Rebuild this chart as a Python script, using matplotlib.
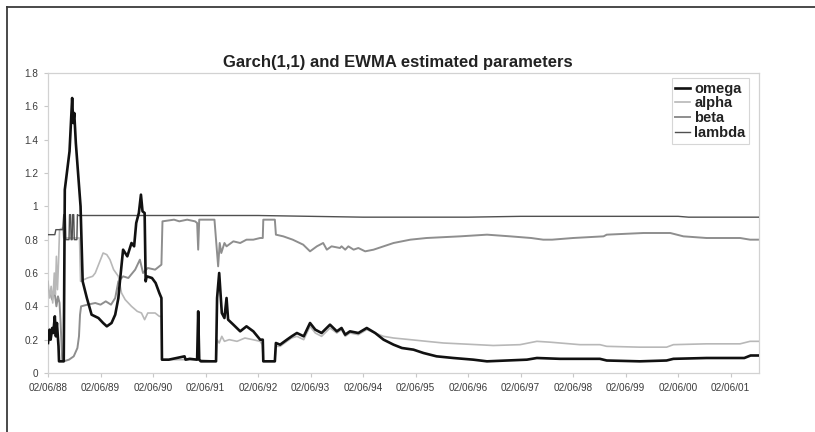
import matplotlib
matplotlib.use("Agg")
import matplotlib.pyplot as plt
from matplotlib.lines import Line2D

plt.rcParams["font.family"] = ["Liberation Sans", "DejaVu Sans"]

# Time axis: years elapsed since 02/06/88
date_labels = ["02/06/88", "02/06/89", "02/06/90", "02/06/91", "02/06/92",
               "02/06/93", "02/06/94", "02/06/95", "02/06/96", "02/06/97",
               "02/06/98", "02/06/99", "02/06/00", "02/06/01"]
y_ticks = [0, 0.2, 0.4, 0.6, 0.8, 1.0, 1.2, 1.4, 1.6, 1.8]
y_labels = ["0", "0.2", "0.4", "0.6", "0.8", "1", "1.2", "1.4", "1.6", "1.8"]

omega_t = [0.00, 0.03, 0.05, 0.08, 0.10, 0.13, 0.15, 0.17, 0.20, 0.21, 0.30, 0.32,
           0.41, 0.46, 0.48, 0.50, 0.53, 0.62, 0.66, 0.74, 0.83, 0.96, 1.05, 1.12,
           1.21, 1.28, 1.34, 1.37, 1.43, 1.51, 1.59, 1.64, 1.68, 1.73, 1.77, 1.80,
           1.84, 1.86, 1.88, 1.98, 2.05, 2.12, 2.16, 2.17, 2.30, 2.45, 2.60, 2.62,
           2.70, 2.84, 2.86, 2.88, 2.91, 3.17, 3.20, 3.22, 3.26, 3.31, 3.36, 3.40,
           3.43, 3.53, 3.66, 3.78, 3.91, 4.04, 4.09, 4.10, 4.32, 4.34, 4.42, 4.55,
           4.64, 4.74, 4.87, 4.99, 5.09, 5.21, 5.37, 5.50, 5.59, 5.66, 5.75, 5.91,
           6.07, 6.23, 6.39, 6.58, 6.74, 6.96, 7.15, 7.40, 7.72, 8.10, 8.36, 8.74,
           9.12, 9.31, 9.75, 10.51, 10.64, 11.27, 11.78, 11.91, 12.54, 13.26, 13.38,
           13.55]
omega_v = [0.18, 0.26, 0.20, 0.27, 0.24, 0.34, 0.22, 0.30, 0.16, 0.07, 0.07, 1.10,
           1.33, 1.65, 1.50, 1.56, 1.38, 1.00, 0.55, 0.45, 0.35, 0.33, 0.30, 0.28,
           0.30, 0.35, 0.45, 0.55, 0.74, 0.70, 0.78, 0.76, 0.90, 0.96, 1.07, 0.97,
           0.96, 0.55, 0.58, 0.57, 0.54, 0.48, 0.45, 0.08, 0.08, 0.09, 0.10, 0.08,
           0.085, 0.08, 0.37, 0.08, 0.07, 0.07, 0.07, 0.45, 0.60, 0.36, 0.33, 0.45,
           0.32, 0.29, 0.25, 0.28, 0.25, 0.20, 0.20, 0.07, 0.07, 0.18, 0.17, 0.20,
           0.22, 0.24, 0.22, 0.30, 0.26, 0.24, 0.29, 0.25, 0.27, 0.23, 0.25, 0.24,
           0.27, 0.24, 0.20, 0.17, 0.15, 0.14, 0.12, 0.10, 0.09, 0.08, 0.07, 0.075,
           0.08, 0.09, 0.085, 0.085, 0.075, 0.07, 0.075, 0.085, 0.09, 0.09, 0.105,
           0.105]

alpha_t = [0.00, 0.03, 0.06, 0.09, 0.12, 0.14, 0.16, 0.18, 0.20, 0.22, 0.28, 0.30,
           0.60, 0.62, 0.75, 0.85, 0.90, 1.05, 1.12, 1.18, 1.25, 1.34, 1.40, 1.47,
           1.59, 1.70, 1.78, 1.84, 1.90, 2.04, 2.12, 2.16, 2.17, 2.85, 2.87, 3.20,
           3.22, 3.26, 3.31, 3.36, 3.45, 3.60, 3.75, 3.90, 4.04, 4.08, 4.10, 4.32,
           4.34, 4.42, 4.55, 4.64, 4.74, 4.87, 4.99, 5.09, 5.21, 5.37, 5.50, 5.59,
           5.66, 5.75, 5.91, 6.07, 6.23, 6.39, 6.58, 6.90, 7.21, 7.53, 8.17, 8.48,
           8.99, 9.31, 9.56, 9.75, 10.13, 10.51, 10.64, 11.27, 11.78, 11.91, 12.54,
           13.18, 13.37, 13.55]
alpha_v = [0.55, 0.45, 0.52, 0.42, 0.60, 0.47, 0.70, 0.50, 0.66, 0.86, 0.87, 0.81,
           0.81, 0.55, 0.57, 0.58, 0.60, 0.72, 0.71, 0.68, 0.62, 0.58, 0.48, 0.44,
           0.40, 0.37, 0.36, 0.32, 0.36, 0.36, 0.34, 0.34, 0.08, 0.08, 0.08, 0.07,
           0.20, 0.18, 0.22, 0.19, 0.20, 0.19, 0.21, 0.20, 0.19, 0.17, 0.07, 0.07,
           0.16, 0.16, 0.19, 0.21, 0.22, 0.20, 0.28, 0.24, 0.22, 0.27, 0.24, 0.26,
           0.22, 0.24, 0.23, 0.26, 0.24, 0.22, 0.21, 0.20, 0.19, 0.18, 0.17, 0.165,
           0.17, 0.19, 0.185, 0.18, 0.17, 0.17, 0.16, 0.155, 0.155, 0.17, 0.175,
           0.175, 0.19, 0.19]

beta_t = [0.00, 0.04, 0.08, 0.12, 0.16, 0.19, 0.22, 0.24, 0.27, 0.30, 0.40, 0.49,
          0.56, 0.59, 0.61, 0.63, 0.75, 0.90, 1.00, 1.10, 1.20, 1.28, 1.34, 1.43,
          1.53, 1.66, 1.75, 1.81, 1.90, 2.04, 2.12, 2.16, 2.18, 2.40, 2.50, 2.65,
          2.80, 2.84, 2.86, 2.88, 3.17, 3.20, 3.24, 3.27, 3.30, 3.36, 3.40, 3.53,
          3.66, 3.78, 3.91, 4.04, 4.09, 4.10, 4.32, 4.34, 4.48, 4.66, 4.86, 4.99,
          5.12, 5.24, 5.31, 5.40, 5.56, 5.59, 5.66, 5.72, 5.82, 5.91, 6.04, 6.20,
          6.39, 6.58, 6.90, 7.21, 7.85, 8.36, 8.80, 9.20, 9.43, 9.60, 10.00, 10.58,
          10.64, 11.34, 11.85, 12.10, 12.54, 13.18, 13.37, 13.55]
beta_v = [0.45, 0.48, 0.44, 0.50, 0.40, 0.46, 0.42, 0.30, 0.08, 0.07, 0.08, 0.10,
          0.15, 0.22, 0.35, 0.40, 0.41, 0.42, 0.41, 0.43, 0.41, 0.45, 0.55, 0.58,
          0.57, 0.62, 0.68, 0.60, 0.63, 0.62, 0.64, 0.65, 0.91, 0.92, 0.91, 0.92,
          0.91, 0.90, 0.74, 0.92, 0.92, 0.80, 0.64, 0.78, 0.72, 0.78, 0.76, 0.79,
          0.78, 0.80, 0.80, 0.81, 0.81, 0.92, 0.92, 0.83, 0.82, 0.80, 0.77, 0.73,
          0.76, 0.78, 0.74, 0.76, 0.75, 0.76, 0.74, 0.76, 0.74, 0.75, 0.73, 0.74,
          0.76, 0.78, 0.80, 0.81, 0.82, 0.83, 0.82, 0.81, 0.80, 0.80, 0.81, 0.82,
          0.83, 0.84, 0.84, 0.82, 0.81, 0.81, 0.80, 0.80]

lambda_t = [0.00, 0.13, 0.15, 0.28, 0.30, 0.33, 0.34, 0.40, 0.41, 0.43, 0.44, 0.46,
            0.47, 0.49, 0.50, 0.55, 0.56, 0.58, 2.00, 4.00, 5.00, 6.00, 8.00, 9.00,
            12.00, 12.20, 13.55]
lambda_v = [0.83, 0.83, 0.86, 0.86, 0.95, 0.95, 0.80, 0.80, 0.95, 0.95, 0.80, 0.80,
            0.95, 0.95, 0.80, 0.80, 0.95, 0.945, 0.945, 0.945, 0.94, 0.935, 0.935,
            0.94, 0.94, 0.935, 0.935]

W, H = 815, 432
fig = plt.figure(figsize=(W / 100, H / 100), dpi=100)
fig.patch.set_facecolor("white")

# outer frame lines (top and left edges)
fig.add_artist(Line2D([7 / W, 1.0], [1 - 7 / H, 1 - 7 / H], color="#3a3a3a", lw=1.3))
fig.add_artist(Line2D([7 / W, 7 / W], [1 - 7 / H, 0.0], color="#3a3a3a", lw=1.3))

ax = fig.add_axes([48 / W, 59 / H, 711 / W, 300 / H])

ax.plot(beta_t, beta_v, color="#8e8e8e", lw=1.4, label="beta", zorder=2)
ax.plot(alpha_t, alpha_v, color="#b8b8b8", lw=1.2, label="alpha", zorder=3)
ax.plot(lambda_t, lambda_v, color="#505050", lw=1.0, label="lambda", zorder=4)
ax.plot(omega_t, omega_v, color="#111111", lw=1.9, label="omega", zorder=5)

ax.set_xlim(0, 13.54)
ax.set_ylim(0, 1.8)
ax.set_xticks(range(len(date_labels)))
ax.set_xticklabels(date_labels)
ax.set_yticks(y_ticks)
ax.set_yticklabels(y_labels)
ax.tick_params(axis="both", which="major", direction="out", length=3, width=0.8,
               color="#c8c8c8", labelsize=7.2, labelcolor="#3c3c3c", pad=4)

for sp in ax.spines.values():
    sp.set_color("#d2d2d2")
    sp.set_linewidth(0.9)

fig.text(398 / W, 1 - 63 / H, "Garch(1,1) and EWMA estimated parameters",
         ha="center", va="center", fontsize=12, fontweight="bold", color="#222222")

handles, labels = ax.get_legend_handles_labels()
order = [labels.index(n) for n in ["omega", "alpha", "beta", "lambda"]]
leg = ax.legend([handles[i] for i in order], [labels[i] for i in order],
                loc="upper right", bbox_to_anchor=(0.986, 0.983), borderaxespad=0,
                frameon=True, fancybox=False, edgecolor="#cccccc",
                prop={"weight": "bold", "size": 10.5}, handlelength=1.0,
                handletextpad=0.3, labelspacing=0.05, borderpad=0.25)
leg.get_frame().set_linewidth(0.8)
for txt in leg.get_texts():
    txt.set_color("#222222")

fig.savefig("out.png", dpi=100, facecolor="white")
